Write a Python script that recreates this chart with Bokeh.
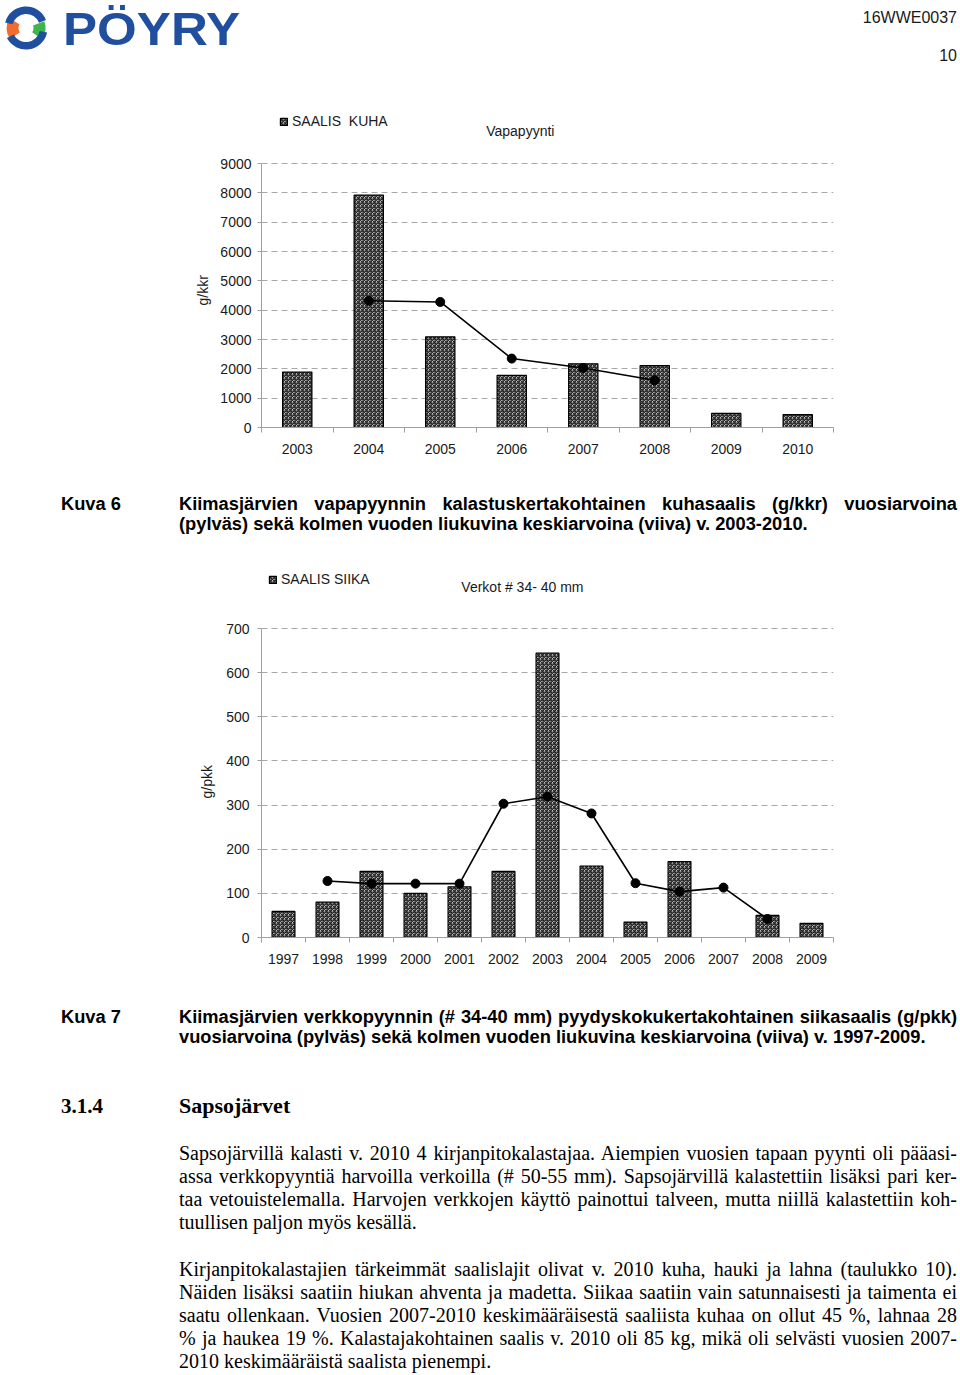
import math
from bokeh.plotting import figure
from bokeh.models import Range1d, FixedTicker, Legend, LegendItem, Label, Div, Title
from bokeh.layouts import column
from bokeh.embed import file_html
from bokeh.resources import INLINE

# ---------------- data ----------------
KUHA_YEARS = ["2003", "2004", "2005", "2006", "2007", "2008", "2009", "2010"]
KUHA_CATCH = [1890, 7920, 3090, 1780, 2170, 2110, 480, 440]
KUHA_AVG_YEARS = ["2004", "2005", "2006", "2007", "2008"]
KUHA_AVG = [4320, 4280, 2350, 2030, 1610]
KUHA_YTICKS = [0, 1000, 2000, 3000, 4000, 5000, 6000, 7000, 8000, 9000]

SIIKA_YEARS = ["1997", "1998", "1999", "2000", "2001", "2002", "2003",
               "2004", "2005", "2006", "2007", "2008", "2009"]
SIIKA_CATCH = [59, 80, 150, 100, 115, 150, 644, 162, 35, 172, 0, 50, 32]
SIIKA_AVG_YEARS = ["1998", "1999", "2000", "2001", "2002", "2003",
                   "2004", "2005", "2006", "2007", "2008"]
SIIKA_AVG = [128, 122, 122, 122, 303, 319, 281, 123, 104, 113, 42]
SIIKA_YTICKS = [0, 100, 200, 300, 400, 500, 600, 700]

FONT = "Liberation Sans"
W = 958
LEFT, RIGHT = 261, 125          # frame spans page x 261..833
GRID = "#a8a8a8"
AXIS = "#a0a0a0"
TXT = "#1a1a1a"


def chart(years, catch, avg_years, avg, yticks, height, bottom, top_gap,
          bar_w, ylabel, ylabel_offset, ylabel_standoff, leg_label, leg_loc,
          title, title_x, title_y, ytick_standoff):
    """top_gap: pixels between figure top and the highest tick (grid) line."""
    n = len(years)
    pos = {y: i + 0.5 for i, y in enumerate(years)}
    xs = [pos[y] for y in years]
    ax = [pos[y] for y in avg_years]
    frame_h = height - bottom
    ytop = yticks[-1]
    y_end = ytop * frame_h / (frame_h - top_gap)
    p = figure(width=W, height=height, x_range=Range1d(0, n),
               y_range=Range1d(0, y_end), output_backend="svg",
               toolbar_location=None, min_border_left=LEFT, min_border_right=RIGHT,
               min_border_top=0, min_border_bottom=bottom)
    p.outline_line_color = None
    p.background_fill_color = "white"
    p.border_fill_color = "white"

    bars = p.vbar(x=xs, top=catch, width=bar_w, bottom=0,
                  fill_color="white", hatch_pattern="criss_cross",
                  hatch_color="#222222", hatch_scale=4, hatch_weight=1.2,
                  line_color="black", line_width=1.2)
    p.line(ax, avg, line_color="black", line_width=1.6)
    p.scatter(ax, avg, size=9, fill_color="black", line_color="black")

    xa = p.xaxis[0]
    xa.ticker = FixedTicker(ticks=xs, minor_ticks=list(range(n + 1)))
    xa.major_label_overrides = {x: y for x, y in zip(xs, years)}
    xa.major_tick_line_color = None
    xa.major_tick_out = 0
    xa.major_tick_in = 0
    xa.minor_tick_line_color = AXIS
    xa.minor_tick_out = 5
    xa.minor_tick_in = 0
    xa.axis_line_color = AXIS
    xa.major_label_standoff = 11
    xa.major_label_text_font = FONT
    xa.major_label_text_font_size = "14px"
    xa.major_label_text_color = TXT

    ya = p.yaxis[0]
    ya.ticker = FixedTicker(ticks=yticks)
    ya.bounds = (0, ytop)
    ya.major_tick_line_color = AXIS
    ya.major_tick_out = 4
    ya.major_tick_in = 0
    ya.minor_tick_line_color = None
    ya.axis_line_color = AXIS
    ya.major_label_standoff = ytick_standoff
    ya.major_label_text_font = FONT
    ya.major_label_text_font_size = "14px"
    ya.major_label_text_color = TXT

    # y-axis title, centred on the tick span (not on the taller frame)
    p.add_layout(Title(text=ylabel, align="left", offset=ylabel_offset,
                       standoff=ylabel_standoff, text_font=FONT,
                       text_font_size="14px", text_font_style="normal",
                       text_color=TXT), "left")

    p.xgrid.grid_line_color = None
    p.ygrid.ticker = FixedTicker(ticks=yticks)
    p.ygrid.grid_line_color = GRID
    p.ygrid.grid_line_dash = "6 4"
    p.ygrid.grid_line_width = 1

    legend = Legend(items=[LegendItem(label=leg_label, renderers=[bars])],
                    location=leg_loc, orientation="horizontal",
                    glyph_width=9, glyph_height=9, label_height=14,
                    label_standoff=4, padding=0, margin=0, spacing=0,
                    border_line_color=None, background_fill_alpha=0,
                    label_text_font=FONT, label_text_font_size="14px",
                    label_text_color=TXT)
    p.add_layout(legend)

    p.add_layout(Label(x=title_x, y=title_y, text=title, text_align="center",
                       text_baseline="middle", text_font=FONT,
                       text_font_size="14px", text_color=TXT))
    return p


# ---------------- header (logo + page ids) ----------------
def arc(cx, cy, r, a0, a1, color, w):
    x0 = cx + r * math.cos(math.radians(a0)); y0 = cy - r * math.sin(math.radians(a0))
    x1 = cx + r * math.cos(math.radians(a1)); y1 = cy - r * math.sin(math.radians(a1))
    large = 1 if (a1 - a0) % 360 > 180 else 0
    return (f'<path d="M{x0:.2f},{y0:.2f} A{r},{r} 0 {large} 0 {x1:.2f},{y1:.2f}" '
            f'fill="none" stroke="{color}" stroke-width="{w}"/>')


BLUE = "#1f4f9e"
logo = (arc(26, 28, 13.5, 150, 215, "#f26b2f", 12) +
        arc(26, 28, 13.5, -35, 20, "#3cb54a", 12) +
        arc(26, 28, 17.8, 22, 165, BLUE, 7.5) +
        arc(26, 28, 17.8, 208, 348, BLUE, 7.5))
HEAD_H = 100
head_html = (
    f'<div style="position:relative;width:{W}px;height:{HEAD_H}px;">'
    f'<svg width="{W}" height="{HEAD_H}" style="position:absolute;left:0;top:0;">'
    + logo +
    f'<text x="63" y="45" font-family="DejaVu Sans" font-weight="bold" font-size="46" '
    f'textLength="177" lengthAdjust="spacingAndGlyphs" fill="{BLUE}">PÖYRY</text>'
    '</svg>'
    '<div style="position:absolute;right:1px;top:8px;line-height:20px;font-family:\'Liberation Sans\';font-size:16px;color:#1a1a1a;">16WWE0037</div>'
    '<div style="position:absolute;right:1px;top:46px;line-height:20px;font-family:\'Liberation Sans\';font-size:16px;color:#1a1a1a;">10</div>'
    '</div>')
head = Div(text=head_html, width=W, height=HEAD_H, margin=0)

# ---------------- charts ----------------
# chart 1 occupies page y 100..470; grid 9000 at y 163, zero at y 427
c1 = chart(KUHA_YEARS, KUHA_CATCH, KUHA_AVG_YEARS, KUHA_AVG, KUHA_YTICKS,
           height=370, bottom=43, top_gap=63, bar_w=0.41,
           ylabel="g/kkr", ylabel_offset=122, ylabel_standoff=14,
           leg_label="SAALIS  KUHA", leg_loc=(18, 298),
           title="Vapapyynti", title_x=3.62, title_y=10125, ytick_standoff=6)

# chart 2 occupies page y 545..985; grid 700 at y 628, zero at y 937
c2 = chart(SIIKA_YEARS, SIIKA_CATCH, SIIKA_AVG_YEARS, SIIKA_AVG, SIIKA_YTICKS,
           height=440, bottom=48, top_gap=83, bar_w=0.52,
           ylabel="g/pkk", ylabel_offset=139, ylabel_standoff=18,
           leg_label="SAALIS SIIKA", leg_loc=(7, 350),
           title="Verkot # 34- 40 mm", title_x=5.93, title_y=795, ytick_standoff=8)


# ---------------- text blocks ----------------
def line(text, left, top, lh, justify=False, width=778):
    style = f"position:absolute;left:{left}px;top:{top}px;line-height:{lh}px;white-space:nowrap;"
    if justify:
        style += f"width:{width}px;text-align:justify;text-align-last:justify;"
    return f'<div style="{style}">{text}</div>'


def cap(num, l1, l2, h, top1):
    inner = (line(num, 61, top1, 20) + line(l1, 179, top1, 20, True) +
             line(l2, 179, top1 + 20, 20))
    html = (f'<div style="position:relative;width:{W}px;height:{h}px;'
            f'font-family:\'Liberation Sans\';font-weight:bold;font-size:18.3px;color:#000;">'
            + inner + '</div>')
    return Div(text=html, width=W, height=h, margin=0)


cap6 = cap("Kuva 6",
           "Kiimasjärvien vapapyynnin kalastuskertakohtainen kuhasaalis (g/kkr) vuosiarvoina",
           "(pylväs) sekä kolmen vuoden liukuvina keskiarvoina (viiva) v. 2003-2010.",
           75, 24)
cap7 = cap("Kuva 7",
           "Kiimasjärvien verkkopyynnin (# 34-40 mm) pyydyskokukertakohtainen siikasaalis (g/pkk)",
           "vuosiarvoina (pylväs) sekä kolmen vuoden liukuvina keskiarvoina (viiva) v. 1997-2009.",
           75, 22)

P1 = ["Sapsojärvillä kalasti v. 2010 4 kirjanpitokalastajaa. Aiempien vuosien tapaan pyynti oli pääasi-",
      "assa verkkopyyntiä harvoilla verkoilla (# 50-55 mm). Sapsojärvillä kalastettiin lisäksi pari ker-",
      "taa vetouistelemalla. Harvojen verkkojen käyttö painottui talveen, mutta niillä kalastettiin koh-",
      "tuullisen paljon myös kesällä."]
P2 = ["Kirjanpitokalastajien tärkeimmät saalislajit olivat v. 2010 kuha, hauki ja lahna (taulukko 10).",
      "Näiden lisäksi saatiin hiukan ahventa ja madetta. Siikaa saatiin vain satunnaisesti ja taimenta ei",
      "saatu ollenkaan. Vuosien 2007-2010 keskimääräisestä saaliista kuhaa on ollut 45 %, lahnaa 28",
      "% ja haukea 19 %. Kalastajakohtainen saalis v. 2010 oli 85 kg, mikä oli selvästi vuosien 2007-",
      "2010 keskimääräistä saalista pienempi."]

body_inner = ('<div style="position:absolute;left:61px;top:33px;line-height:26px;font-weight:bold;font-size:21px;">3.1.4</div>'
              '<div style="position:absolute;left:179px;top:33px;line-height:26px;font-weight:bold;font-size:22px;">Sapsojärvet</div>')
for i, t in enumerate(P1):
    body_inner += line(t, 179, 81.5 + 23 * i, 23, justify=(i < len(P1) - 1))
for i, t in enumerate(P2):
    body_inner += line(t, 179, 197.5 + 23 * i, 23, justify=(i < len(P2) - 1))
BODY_H = 313
body = Div(text=(f'<div style="position:relative;width:{W}px;height:{BODY_H}px;'
                 f'font-family:\'Liberation Serif\';font-size:20px;color:#000;">'
                 + body_inner + '</div>'),
           width=W, height=BODY_H, margin=0)

page = column(head, c1, cap6, c2, cap7, body, spacing=0)
open("out.html", "w").write(file_html(page, INLINE))
